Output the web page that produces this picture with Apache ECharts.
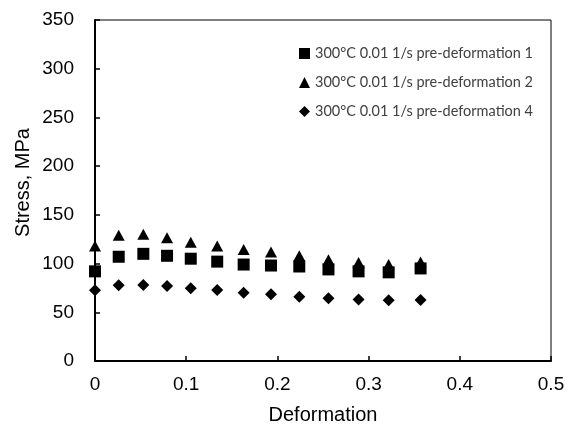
<!DOCTYPE html>
<html>
<head>
<meta charset="utf-8">
<script src="https://cdn.jsdelivr.net/npm/echarts@6/dist/echarts.min.js"></script>
<style>
  html, body { margin: 0; padding: 0; background: #fff; }
  #chart { width: 580px; height: 430px; }
</style>
</head>
<body>
<div id="chart"></div>
<script>
// deformation values (x), shared by the three runs
var deformation = [0, 0.026, 0.053, 0.079, 0.105, 0.134, 0.163, 0.193, 0.224, 0.256, 0.289, 0.322, 0.357];
// stress, MPa
var preDef1 = [92, 107, 110, 108, 105, 102, 99, 98, 97, 94, 92, 91, 95];
var preDef2 = [118, 129, 130, 126.5, 122, 118, 114.5, 112, 108, 104, 101, 99, 101.5];
var preDef4 = [72.6, 77.7, 78, 77, 74.6, 73, 70, 68.5, 66, 64.4, 63, 62.4, 62.7];

var seriesNames = [
  '300°C 0.01 1/s pre-deformation 1',
  '300°C 0.01 1/s pre-deformation 2',
  '300°C 0.01 1/s pre-deformation 4'
];

function pairs(ys) {
  var out = [];
  for (var i = 0; i < ys.length; i++) {
    out.push([deformation[i], ys[i]]);
  }
  return out;
}

var myChart = echarts.init(document.getElementById('chart'));

var axisFont = { fontFamily: 'Liberation Sans', fontSize: 19, color: '#000' };

var option = {
  animation: false,
  backgroundColor: '#fff',
  grid: {
    left: 95,
    top: 20,
    width: 456,
    height: 342,
    show: true,
    borderColor: '#000',
    borderWidth: 1
  },
  legend: {
    orient: 'vertical',
    left: 294,
    top: 41,
    itemGap: 14,
    itemWidth: 11,
    itemHeight: 11,
    textStyle: { fontFamily: 'Lato', fontSize: 14.5, color: '#404040' },
    data: [
      { name: seriesNames[0], icon: 'rect' },
      { name: seriesNames[1], icon: 'triangle' },
      { name: seriesNames[2], icon: 'diamond' }
    ]
  },
  xAxis: {
    type: 'value',
    min: 0,
    max: 0.5,
    interval: 0.1,
    name: 'Deformation',
    nameLocation: 'middle',
    nameGap: 44,
    nameTextStyle: { fontFamily: 'Liberation Sans', fontSize: 20, color: '#000' },
    axisLine: { onZero: false, lineStyle: { color: '#000', width: 2 } },
    axisTick: { inside: true, length: 5, lineStyle: { color: '#000', width: 1.5 } },
    axisLabel: Object.assign({ margin: 14 }, axisFont),
    splitLine: { show: false }
  },
  yAxis: {
    type: 'value',
    min: 0,
    max: 350,
    interval: 50,
    name: 'Stress, MPa',
    nameLocation: 'middle',
    nameGap: 62,
    nameMoveOverlap: false,
    nameTextStyle: { fontFamily: 'Liberation Sans', fontSize: 20, color: '#000', padding: [0, 0, 0, 16] },
    axisLine: { onZero: false, lineStyle: { color: '#000', width: 2 } },
    axisTick: { inside: true, length: 5, lineStyle: { color: '#000', width: 1.5 } },
    axisLabel: Object.assign({ margin: 21 }, axisFont),
    splitLine: { show: false }
  },
  series: [
    {
      name: seriesNames[0],
      type: 'scatter',
      symbol: 'rect',
      symbolSize: 12,
      itemStyle: { color: '#000', opacity: 1 },
      data: pairs(preDef1)
    },
    {
      name: seriesNames[1],
      type: 'scatter',
      symbol: 'triangle',
      symbolSize: [12, 11],
      itemStyle: { color: '#000', opacity: 1 },
      data: pairs(preDef2)
    },
    {
      name: seriesNames[2],
      type: 'scatter',
      symbol: 'diamond',
      symbolSize: 12,
      itemStyle: { color: '#000', opacity: 1 },
      data: pairs(preDef4)
    }
  ]
};

myChart.setOption(option);
</script>
</body>
</html>
